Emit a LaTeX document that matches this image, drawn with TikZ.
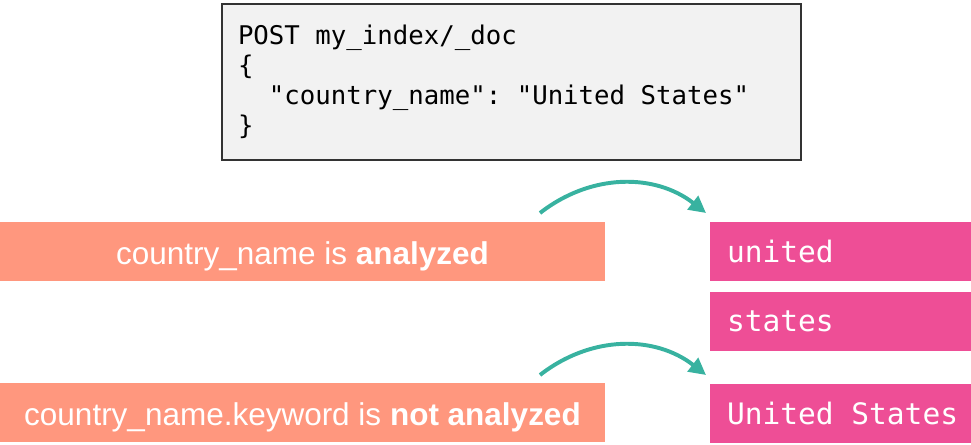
\documentclass[tikz,border=0pt]{standalone}
\usepackage{fontspec}
\setmainfont{Liberation Sans}
\newfontfamily\codefont{DejaVu Sans Mono}
\usetikzlibrary{arrows.meta}
\definecolor{codebg}{RGB}{242,242,242}
\definecolor{codeline}{RGB}{51,51,51}
\definecolor{salmon}{RGB}{255,151,126}
\definecolor{tokpink}{RGB}{238,78,150}
\definecolor{flowteal}{RGB}{56,178,160}
% one character cell of the code font
\newcommand{\codesp}{\hspace*{0.602em}}

\begin{document}
\begin{tikzpicture} [scale = 1,
  codebox/.style = {draw = codeline, line width = 1.4pt, fill = codebg, minimum width = 14.475cm, minimum height = 3.9cm, text width = 13.675cm, align = left, inner sep = 0pt, font = \codefont\fontsize{18.3}{21.3}\selectfont},
  fieldbar/.style = {fill = salmon, text = white, minimum width = 15.125cm, text height = 1.075cm, text depth = 0.4cm, inner sep = 0pt, font = \fontsize{22.4}{24}\selectfont},
  tokenbar/.style = {fill = tokpink, text = white, minimum width = 6.525cm, minimum height = 1.475cm, text width = 5.675cm, align = left, inner sep = 0pt, font = \codefont\fontsize{21}{24}\selectfont},
  flow/.style = {flowteal, line width = 2.8pt, -{Triangle[length = 12pt, width = 12pt]}}]
\useasboundingbox (0, 0) rectangle (24.275, 11.125);
% request
\node[codebox] (post) at (12.7875, 9.075){POST\codesp my\_index/\_doc\\ \{\\ \codesp\codesp"country\_name":\codesp"United\codesp States"\\ \}};
% fields
\node[fieldbar] (analyzed) at (7.5625, 4.8375){country\_name is \textbf{analyzed}};
\node[fieldbar] (notanalyzed) at (7.5625, 0.8125){country\_name.keyword is \textbf{not analyzed}};
% tokens
\node[tokenbar] (united) at (21.0125, 4.8375){united};
\node[tokenbar] (states) at (21.0125, 3.0875){states};
\node[tokenbar] (unitedstates) at (21.0125, 0.7875){United\codesp States};
% arrows
\coordinate (fromA) at (13.5, 5.8);
\coordinate (toA) at (17.65, 5.8);
\coordinate (fromB) at (13.5, 1.75);
\coordinate (toB) at (17.65, 1.75);
\draw[flow] (fromA) to[bend left = 38] (toA);
\draw[flow] (fromB) to[bend left = 38] (toB);
\end{tikzpicture}
\end{document}
